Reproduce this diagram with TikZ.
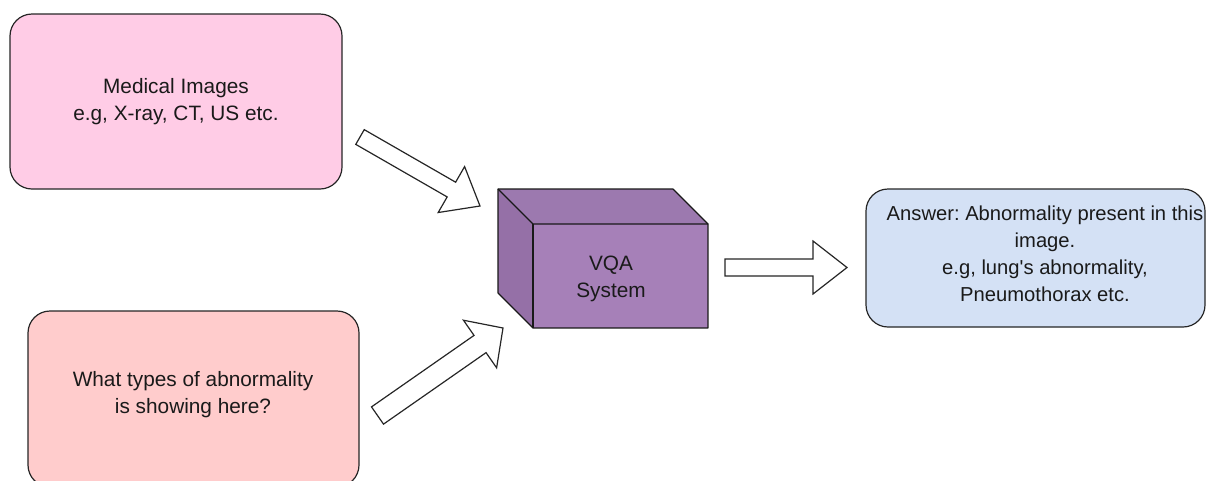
\documentclass[tikz,border=0pt]{standalone}
\usepackage{fontspec}
\setmainfont{Liberation Sans}
\usetikzlibrary{calc}
\frenchspacing
\definecolor{pinkA}{HTML}{FFCCE6}
\definecolor{pinkB}{HTML}{FFCCCC}
\definecolor{blueA}{HTML}{D4E1F5}
\definecolor{cubeFront}{HTML}{A680B8}
\definecolor{cubeTop}{HTML}{9C79AF}
\definecolor{cubeSide}{HTML}{9570A7}
\definecolor{txt}{HTML}{1A1A1A}
\tikzset{
  rbox/.style={draw=black!85, line width=1.2pt, rounded corners=22pt},
  lbl/.style={align=center, text=txt, font=\fontsize{20.8}{27}\selectfont, inner sep=0pt},
  barrow/.style={draw=black!85, fill=white, line width=1.2pt, line join=miter},
  cubeedge/.style={draw=black!90, line width=1.2pt, line join=round}
}
\newcommand\blockarrow[5]{%
  \coordinate (#1-h) at ($(#2)!#5!(#1)$);
  \draw[barrow] ($(#1)!#3!90:(#2)$) -- ($(#1-h)!#3!90:(#2)$) -- ($(#1-h)!#4!90:(#2)$) -- (#2)
     -- ($(#1-h)!#4!-90:(#2)$) -- ($(#1-h)!#3!-90:(#2)$) -- ($(#1)!#3!-90:(#2)$) -- cycle;}
\begin{document}
\begin{tikzpicture}[x=1pt,y=-1pt]
  \useasboundingbox (0,0) rectangle (1206,480);
  \clip (0,0) rectangle (1206,480);
  % input boxes
  \draw[rbox, fill=pinkA] (10,14) rectangle (342,189);
  \node[lbl] (img) at (176,102) {Medical Images\\e.g, X-ray, CT, US etc.};
  \draw[rbox, fill=pinkB] (28,311) rectangle (359,487);
  \node[lbl] (q) at (193,395) {What types of abnormality\\is showing here?};
  % answer box
  \draw[rbox, fill=blueA] (866,189) rectangle (1205,327);
  \node[lbl, font=\fontsize{20.2}{27}\selectfont] (ans) at (1045,254) {Answer: Abnormality present in this\\image.\\e.g, lung\textquotesingle s abnormality,\\Pneumothorax etc.};
  % cube
  \coordinate (c1) at (498,189);
  \coordinate (c2) at (673,189);
  \coordinate (c3) at (708,224);
  \coordinate (c4) at (708,328);
  \coordinate (c5) at (533,328);
  \coordinate (c6) at (498,293);
  \coordinate (c7) at (533,224);
  \fill[cubeTop] (c1) -- (c2) -- (c3) -- (c7) -- cycle;
  \fill[cubeSide] (c1) -- (c7) -- (c5) -- (c6) -- cycle;
  \fill[cubeFront] (c7) -- (c3) -- (c4) -- (c5) -- cycle;
  \draw[cubeedge] (c1) -- (c2) -- (c3) -- (c4) -- (c5) -- (c6) -- cycle;
  \draw[cubeedge] (c1) -- (c7) -- (c3);
  \draw[cubeedge] (c7) -- (c5);
  \node[lbl] (vqa) at (611,279) {VQA\\System};
  % block arrows
  \coordinate (a1t) at (360,137);
  \coordinate (a1h) at (480,206);
  \blockarrow{a1t}{a1h}{8.5pt}{26.5pt}{33pt}
  \coordinate (a2t) at (377.5,415.5);
  \coordinate (a2h) at (503,328);
  \blockarrow{a2t}{a2h}{10.5pt}{29pt}{28pt}
  \coordinate (a3t) at (725,267.5);
  \coordinate (a3h) at (847,267.5);
  \blockarrow{a3t}{a3h}{8.5pt}{26.5pt}{34pt}
\end{tikzpicture}
\end{document}
